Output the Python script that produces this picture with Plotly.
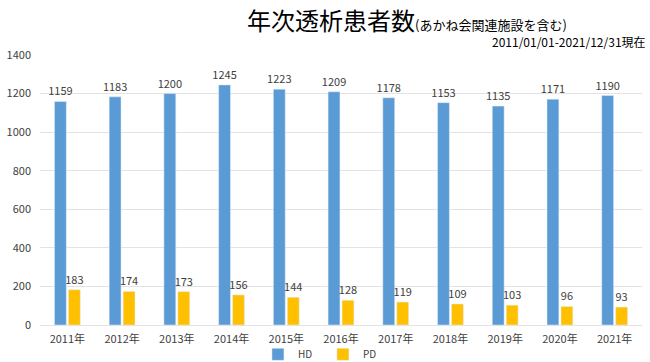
import plotly.graph_objects as go

years = ["2011年", "2012年", "2013年", "2014年", "2015年", "2016年",
         "2017年", "2018年", "2019年", "2020年", "2021年"]
hd = [1159, 1183, 1200, 1245, 1223, 1209, 1178, 1153, 1135, 1171, 1190]
pd_ = [183, 174, 173, 156, 144, 128, 119, 109, 103, 96, 93]
y_ticks = [0, 200, 400, 600, 800, 1000, 1200, 1400]

font_family = "Noto Sans CJK JP, Noto Sans, sans-serif"

fig = go.Figure()
fig.add_bar(name="HD", x=years, y=hd, marker_color="#5B9BD5",
            text=hd, textposition="outside", cliponaxis=False,
            constraintext="none", textangle=0,
            textfont=dict(size=11, color="#404040"))
fig.add_bar(name="PD", x=years, y=pd_, marker_color="#FFC000",
            text=pd_, textposition="outside", cliponaxis=False,
            constraintext="none", textangle=0,
            textfont=dict(size=11, color="#404040"))

fig.update_layout(
    width=650, height=362,
    margin=dict(l=40, r=8, t=55, b=37, autoexpand=False),
    paper_bgcolor="white", plot_bgcolor="white",
    font=dict(family=font_family, size=11, color="#404040"),
    barmode="group", bargap=0.49, bargroupgap=0.15,
    showlegend=True,
    legend=dict(orientation="h", x=0.47, xanchor="center", y=-0.055, yanchor="top",
                font=dict(size=10, color="#404040"), itemwidth=30,
                entrywidth=20, entrywidthmode="pixels",
                bgcolor="rgba(0,0,0,0)",
                traceorder="normal"),
)
fig.update_yaxes(range=[0, 1400], tickvals=y_ticks, showgrid=True,
                 gridcolor="#E3E3E3", gridwidth=1, zeroline=False,
                 showline=False, ticks="", ticklabelstandoff=8,
                 tickfont=dict(size=11, color="#404040"))
fig.update_xaxes(showline=True, linecolor="#E3E3E3", linewidth=1, ticks="",
                 ticklabelstandoff=4,
                 tickfont=dict(size=11, color="#404040"))

fig.add_annotation(text="年次透析患者数<span style='font-size:13px'>(あかね会関連施設を含む)</span>",
                   xref="paper", yref="paper", x=0.61, y=1.0, yshift=55,
                   xanchor="center", yanchor="top", showarrow=False,
                   font=dict(size=24, color="#000000", family=font_family))
fig.add_annotation(text="2011/01/01-2021/12/31現在",
                   xref="paper", yref="paper", x=1.0, y=1.0, yshift=24, xshift=6,
                   xanchor="right", yanchor="top", showarrow=False,
                   font=dict(size=12, color="#000000", family=font_family))

fig.write_html("out.html", config={"displayModeBar": False},
               post_script="document.body.style.margin='0';document.body.style.overflow='hidden';")
